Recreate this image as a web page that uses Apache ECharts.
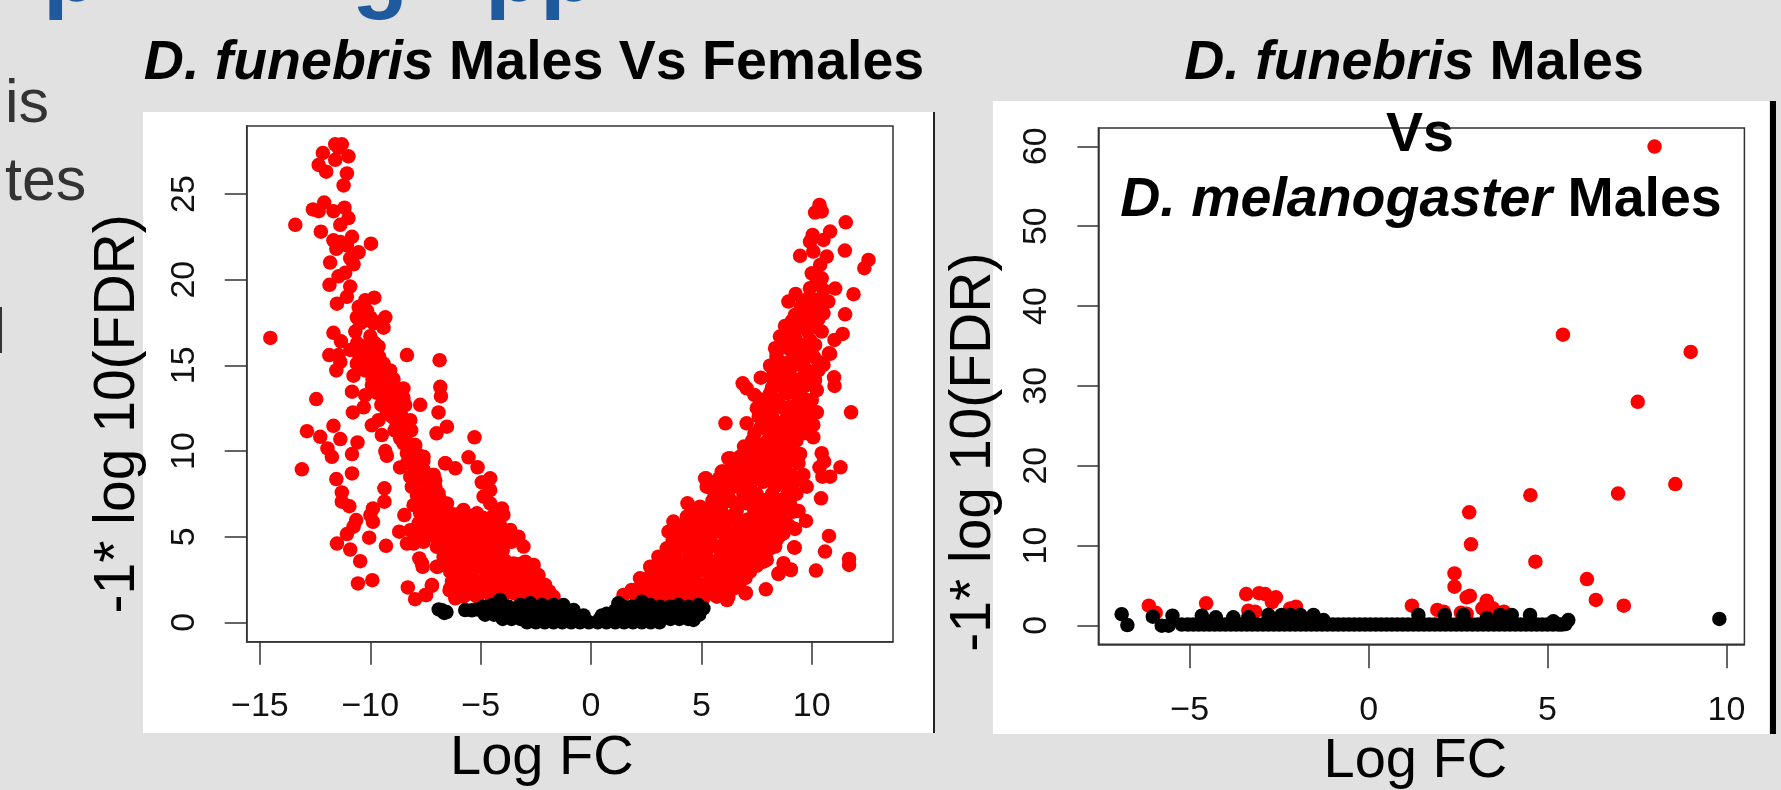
<!DOCTYPE html>
<html><head><meta charset="utf-8"><style>html,body{margin:0;padding:0;background:#e1e1e1}#c{width:1781px;height:790px}</style>
<script src="https://cdn.jsdelivr.net/npm/echarts@6/dist/echarts.min.js"></script></head>
<body><div id="c"></div>
<script>
const leftXTicks=[-15,-10,-5,0,5,10];
const leftYTicks=[0,5,10,15,20,25];
const rightXTicks=[-5,0,5,10];
const rightYTicks=[0,10,20,30,40,50,60];
const xTitle='Log FC';
const yTitle='-1* log 10(FDR)';

const leftRedNeg=[[-11.59,27.9],[-11.29,27.9],[-11.44,27.7],[-12.15,27.4],[-10.99,27.2],[-11.59,27.0],[-12.34,26.7],[-12.0,26.3],[-11.06,26.2],[-11.21,25.5],[-12.6,24.1],[-12.34,24.0],[-12.09,24.5],[-11.67,24.0],[-11.17,24.2],[-10.99,23.6],[-11.36,23.2],[-13.4,23.2],[-12.24,22.8],[-11.67,22.3],[-11.36,22.2],[-10.83,22.5],[-11.54,21.8],[-11.06,22.0],[-9.97,22.1],[-10.53,21.6],[-11.82,21.0],[-10.91,21.25],[-10.76,20.9],[-11.14,20.4],[-11.44,20.2],[-11.85,19.7],[-10.91,19.6],[-11.06,19.0],[-11.51,18.6],[-10.23,18.8],[-9.82,18.95],[-10.53,18.4],[-10.15,18.2],[-9.32,17.8],[-10.61,17.8],[-10.46,17.45],[-10.68,16.97],[-9.4,17.2],[-9.85,17.45],[-11.67,16.9],[-11.33,16.4],[-10.91,15.9],[-10.0,16.7],[-9.63,16.1],[-10.3,16.1],[-11.86,15.6],[-11.44,15.6],[-11.36,15.2],[-11.54,14.7],[-10.61,15.1],[-10.15,15.3],[-9.85,15.7],[-9.4,15.1],[-9.1,14.7],[-14.53,16.6],[-8.34,15.6],[-6.86,15.3],[-10.76,14.4],[-10.23,14.7],[-9.7,14.7],[-9.4,14.3],[-8.95,14.2],
[-12.45,13.03],[-10.83,13.46],[-10.23,13.26],[-10.3,12.55],[-10.79,12.25],[-9.43,12.9],[-9.93,13.85],[-9.4,13.95],[-8.95,13.75],[-8.5,13.65],[-6.83,13.75],[-6.8,13.2],[-7.74,12.7],[-6.91,12.25],[-8.95,12.97],[-8.42,12.68],[-8.8,12.4],[-9.02,12.0],[-9.63,11.8],[-11.67,11.47],[-12.87,11.16],[-12.27,10.83],[-11.36,10.7],[-9.93,11.5],[-9.48,10.93],[-8.19,11.8],[-8.15,11.2],[-8.8,11.5],[-8.65,10.74],[-7.0,11.03],[-6.53,11.42],[-10.58,10.5],[-11.94,10.15],[-11.74,9.66],[-10.83,9.82],[-9.32,10.0],[-9.25,9.72],[-13.1,8.93],[-10.83,8.69],[-11.54,8.36],[-7.96,10.35],[-7.81,9.76],[-8.34,9.86],[-6.6,9.28],[-8.65,9.04],[-7.89,9.0],[-7.13,8.6],[-7.59,8.89],[-8.12,7.91],[-7.74,8.3],[-7.44,7.91],[-7.06,7.82],[-7.89,7.43],[-7.29,7.33],[-6.83,7.13],[-9.36,7.82],[-11.29,7.58],[-9.36,7.04],[-11.29,7.04],[-10.95,6.78],[-9.88,6.65],[-10.0,6.26],[-9.88,5.87],[-10.64,5.97],[-10.76,5.58],[-11.06,5.15],[-8.46,6.26],[-8.04,6.84],[-7.59,6.65],[-7.21,6.45],[-6.76,6.36],[-7.59,5.97],[-7.06,5.77],[-6.53,5.77],[-8.69,5.29],[-8.19,5.38],[-7.81,5.77],[-10.05,4.94],[-11.51,4.6],[-9.29,4.47],[-10.91,4.25],[-10.46,3.57],[-8.34,4.6],[-7.59,4.7],[-7.06,5.0],[-6.6,4.41],[-7.78,3.73],[-7.63,3.24],[-6.95,3.24],[-6.38,3.15],[-10.56,2.27],[-9.91,2.46],[-8.3,2.04],[-7.21,2.13],[-7.47,1.59],[-7.97,1.35],[-6.41,1.88],
[-7.59,9.67],[-7.59,8.89],[-7.14,8.6],[-7.51,8.12],[-7.06,7.92],[-7.44,7.34],[-6.91,7.34],[-7.29,6.75],[-6.83,6.75],[-7.59,6.17],[-7.14,6.17],[-6.38,6.36],[-5.78,6.56],[-5.17,6.36],[-6.61,5.78],[-6.08,5.88],[-5.55,5.78],[-4.95,5.88],[-7.59,4.81],[-7.06,5.2],[-6.53,5.0],[-5.93,5.49],[-5.32,5.1],[-4.64,5.29],[-4.04,6.65],[-3.97,6.27],[-4.12,5.68],[-3.66,5.39],[-3.29,5.0],[-3.06,4.42],[-3.97,4.61],[-4.57,4.61],[-5.17,4.42],[-5.85,4.42],[-6.46,4.22],[-7.66,3.44],[-6.99,3.25],[-6.23,3.44],[-5.55,3.54],[-4.87,3.74],[-4.19,3.64],[-3.51,3.44],[-2.98,3.54],[-2.6,3.35],[-2.38,2.76],[-2.91,2.76],[-3.51,2.76],[-4.12,2.76],[-4.72,2.76],[-5.4,2.66],[-6.08,2.76],[-6.38,2.96],[-7.21,2.18],[-7.51,1.6],[-6.38,1.98],[-5.78,2.08],[-5.17,1.98],[-4.49,2.08],[-3.81,2.08],[-3.21,2.08],[-2.6,2.08],[-2.08,2.18],[-1.7,1.5],[-2.08,1.3],[-2.6,1.6],[-3.21,1.5],[-3.89,1.69],[-4.49,1.4],[-5.17,1.5],[-5.78,1.5],[-6.15,1.4],[-6.61,9.28],[-6.15,8.99],[-5.55,9.63],[-5.14,9.05],[-4.57,8.41],[-4.95,8.17],[-4.57,7.72],[-4.87,7.34],[-4.57,6.95],[-5.28,10.8]];

const leftRedNegDense=[[-10.3,17.6],[-10.0,17.8],[-9.6,17.5],[-9.8,16.3],[-9.9,15.5],[-9.6,15.5],[-9.8,15.0],[-9.55,14.5],[-9.2,14.5],[-9.6,13.5],[-9.2,13.4],[-8.8,13.3],[-9.2,12.8],[-8.7,12.7],[-9.1,12.4],[-8.6,12.1],[-8.9,11.9],[-8.5,11.5],[-8.65,11.2],[-8.5,10.44],[-8.34,9.28],[-8.04,9.47],[-8.19,8.5],[-7.74,9.28],[-7.51,8.3],[-7.06,8.3],[-7.66,7.33],[-6.91,7.52],[-7.13,6.75],[-6.53,6.94],[-7.74,6.36],[-7.44,5.38],[-6.83,5.58],[-6.38,5.0],[-6.98,4.41],[-6.68,3.83],[-6.38,4.22],[-7.89,5.0],[-8.04,4.6],
[-6.1,6.3],[-5.5,6.2],[-4.9,6.1],[-4.45,6.2],[-6.2,5.3],[-5.65,5.2],[-5,5.1],[-4.4,5.0],[-3.85,5.0],[-6.2,4.7],[-5.55,4.7],[-4.85,4.6],[-4.3,4.4],[-5.5,4.0],[-6.2,3.9],[-4.9,4.1],[-4.3,4.1],[-5.8,3.1],[-5.2,3.2],[-4.5,3.2],[-3.8,3.2],[-3.2,3.1],[-6,2.4],[-5.4,2.1],[-5,2.4],[-4.4,2.4],[-3.8,2.5],[-3.2,2.5],[-2.6,2.7],[-5.5,1.7],[-4.8,1.8],[-4.2,1.6],[-3.5,1.7],[-2.9,1.8],[-2.3,1.7],[-1.9,1.8],
[-10.6,16.3],[-10.5,15.6],[-10.1,14.9],[-9.9,14.2],[-9.7,13.4],[-9.5,12.7],[-9.25,12.2],[-8.9,11.2],[-8.9,13.3],[-8.5,13.1],[-8.4,11.1],[-8.2,10.4],[-8.0,9.9],[-7.6,9.4],[-7.9,8.6],[-7.4,8.5],[-7.5,7.7],[-7.1,7.6],[-7.4,7.0],[-7,7.1],[-6.6,6.6],[-7.4,6.4],[-7,6.4],[-7.4,5.7],[-7.2,5.2],[-6.8,5.1],[-6.7,4.8],
[-5.8,6.1],[-5.2,6],[-4.7,6],[-4.3,5.7],[-6.4,5.4],[-5.8,5.5],[-5.2,5.6],[-4.6,5.6],[-6,4.9],[-5.4,4.9],[-4.7,4.9],[-4.1,4.9],[-3.6,4.7],[-5.9,4],[-5.2,4.1],[-4.6,4.2],[-4,4.2],[-6.5,3.6],[-5.9,3.5],[-5.2,3.6],[-4.5,3.6],[-3.9,3.6],[-3.2,3.4],[-6,3],[-5.5,3],[-4.8,3.1],[-4.2,3.2],[-3.5,3.1],[-2.8,3.1],[-6.3,2.4],[-5.6,2.4],[-4.7,2.3],[-4.1,2.3],[-3.5,2.3],[-2.9,2.3],[-2.4,2.2],[-6,1.8],[-5.2,1.8],[-4.5,1.8],[-3.9,1.9],[-3.2,1.8],[-2.6,1.8],[-2.1,1.7]];

const leftRedPos=[[5.17,8.4],[5.32,7.92],[6.22,9.57],[6.0,8.8],[6.75,9.67],[5.7,7.92],[6.75,8.89],[7.51,9.28],[8.26,9.67],[8.87,9.28],[9.39,9.67],[6.45,7.92],[7.2,8.11],[8.11,8.31],[8.87,8.11],[4.37,6.95],[4.94,6.75],[5.54,7.14],[6.3,7.14],[7.05,6.95],[7.81,7.14],[8.56,6.95],[9.09,6.65],[3.73,5.88],[4.34,6.17],[5.09,5.97],[5.85,6.17],[6.6,5.88],[7.43,6.07],[8.19,6.07],[8.87,5.78],[3.51,5.29],[4.19,5.2],[4.94,5.2],[5.7,5.29],[6.45,5.2],[7.2,5.29],[7.96,5.2],[8.64,5.2],[3.43,4.32],[4.19,4.42],[4.94,4.42],[5.7,4.42],[6.45,4.42],[7.2,4.42],[7.96,4.22],[8.26,4.6],[9.2,4.38],[3.05,3.83],[3.81,3.74],[4.56,3.64],[5.32,3.64],[6.07,3.64],[6.9,3.64],[7.81,3.54],[2.68,3.25],[3.43,3.05],[4.19,2.96],[4.94,3.05],[5.7,2.96],[6.45,2.96],[7.2,2.96],[8.49,2.82],[9.05,3.09],[2.22,2.57],[2.98,2.37],[3.73,2.28],[4.49,2.28],[5.24,2.28],[6.0,2.28],[6.75,2.37],[1.84,1.89],[2.52,1.89],[3.28,1.7],[4.03,1.79],[4.79,1.7],[5.54,1.79],[6.22,1.5],[7.01,1.73],[7.92,1.93],[1.47,1.6],[2.07,1.4],[2.83,1.4],[3.58,1.4],[4.34,1.4],[5.09,1.4],[5.7,1.5],
[10.35,24.36],[10.15,23.92],[10.45,23.98],[11.54,23.35],[10.83,22.81],[10.04,22.61],[9.92,22.22],[10.53,22.32],[9.47,21.39],[10.07,21.64],[10.68,21.35],[11.5,21.7],[12.57,21.15],[12.38,20.67],[10.0,20.37],[10.38,20.86],[10.45,20.08],[11.06,19.48],[9.92,19.5],[10.53,19.4],[9.27,19.17],[8.94,18.72],[9.62,18.72],[10.23,18.82],[10.75,18.72],[11.89,19.15],[11.51,17.98],[10.53,18.04],[9.92,17.94],[9.24,17.94],[8.79,17.3],[9.47,17.26],[10.15,17.26],[10.45,16.97],[11.4,16.83],[11.03,16.48],[8.56,16.68],[9.24,16.58],[9.92,16.48],[10.15,16.19],[8.34,16.0],[9.02,15.9],[9.7,15.7],[10.78,15.7],[10.3,15.2],[8.11,14.98],[8.72,15.12],[9.47,15.03],[10.53,15.03],
[8.41,15.7],[9.24,15.7],[10.83,15.67],[8.16,14.97],[8.87,15.12],[9.62,15.02],[7.69,14.28],[8.49,14.15],[9.24,14.15],[10.15,14.15],[11.01,14.3],[11.03,13.8],[6.87,13.95],[7.05,13.66],[7.4,13.27],[8.11,13.37],[8.87,13.37],[10.23,13.56],[10.0,12.98],[7.51,12.5],[8.26,12.59],[9.02,12.59],[9.77,12.5],[10.23,12.26],[11.78,12.26],[6.09,11.62],[7.05,11.62],[7.66,11.33],[8.41,11.62],[9.17,11.72],[10.07,11.52],[8.11,11.03],[8.87,11.03],[9.62,11.03],[10.07,10.8],[6.93,10.26],[7.73,10.35],[8.19,10.26],[9.02,10.26],[9.47,9.83],[6.3,9.58],[6.9,9.48],[7.58,9.58],[8.19,9.48],[8.79,9.48],[10.45,9.87],[10.56,9.38],[10.35,9.05],[11.3,9.05],[10.48,8.5],[10.83,8.5],[5.92,8.8],[6.53,8.7],[7.2,8.7],[7.81,8.8],[8.49,8.7],[9.09,8.6],[9.62,8.6],[9.77,7.92],[5.21,8.41],[5.24,7.92],[5.85,7.92],[6.53,8.02],[7.2,7.92],[8.34,7.92],[9.02,7.92],[10.42,7.24],[5.54,7.14],[6.37,7.05],[7.05,7.05],[7.96,7.14],[8.64,7.14],[8.94,6.95],[9.17,6.46],[5.09,6.36],[5.7,6.36],[6.45,6.27],[7.51,6.36],[8.26,6.36],[9.74,5.92],[9.24,5.45],[8.72,5.2],[7.96,5.59],[6.75,5.59],[5.85,5.59],[5.17,5.39],[10.78,5.04],[10.6,4.13],[9.23,4.36],[8.34,4.42],[7.51,4.42],[6.75,4.61],[5.85,4.42],[5.09,4.42],[11.69,3.7],[11.69,3.35],[10.19,3.02],[8.72,3.45],[7.96,3.64],[7.2,3.45],[9.05,3.05],[8.5,2.86],[7.0,1.69],[6.16,1.3]];

const leftRedPosDense=[[6.4,9.2],[7.1,9.2],[7.8,9.2],[8.4,9.1],[5.8,8.4],[6.1,8.4],[6.9,8.4],[7.6,8.4],[8.3,8.4],[9,8.4],[5.6,7.5],[6.2,7.5],[6.9,7.5],[7.5,7.5],[8.2,7.5],[8.9,7.5],[9.3,7.5],[4.6,6.5],[5.3,6.5],[5.9,6.5],[6.6,6.5],[7.4,6.5],[8,6.5],[8.7,6.5],[9.4,6.5],[3.9,5.6],[4.6,5.6],[5.3,5.6],[6,5.6],[6.9,5.6],[7.6,5.6],[8.3,5.6],[9,5.6],[3.7,4.8],[4.5,4.8],[5.3,4.8],[6.1,4.8],[6.9,4.8],[7.6,4.8],[8.4,4.8],[3.8,4],[4.5,4],[5.1,4],[5.9,4],[6.5,4],[7.3,4],[7.9,4],[3.1,3.3],[3.8,3.3],[4.6,3.3],[5.3,3.3],[6,3.3],[6.8,3.3],[7.5,3.3],[2.6,2.6],[3.3,2.6],[4,2.6],[4.7,2.6],[5.5,2.6],[6.3,2.6],[7,2.6],[2.2,2],[2.9,2],[3.6,2],[4.4,2],[5.1,2],[5.9,2],[6.5,2],
[8.4,14.7],[9,14.7],[9.8,14.7],[10.3,14.7],[8.6,13.8],[9,13.8],[9.7,13.8],[7.7,13],[8.5,13],[9.4,13],[7.6,12],[8.2,12],[8.9,12],[9.4,12],[9.9,12],[8.5,11.3],[9.3,11.3],[9.8,11.3],[7.3,10.6],[8,10.6],[8.6,10.6],[9.3,10.6],[7.3,9.9],[8,9.9],[8.6,9.9],[9.1,9.9],[9.5,18.4],[10.2,18.4],[9.5,17.7],[10.3,17.7],[8.9,17],[9.8,17],[8.8,16.2],[9.4,16.2],[8.4,15.5],[9.4,15.5],[10.1,15.5],[10.2,19.8],[9.9,19],
[7.4,11],[7.9,11.7],[8.7,11.7],[9.5,11.7],[9.9,11],[8.3,10.9],[9,10.8],[7.7,10],[8.3,9.7],[8.9,9.9],[9.4,9.3],[6.7,9.1],[7.4,9],[8,9],[8.7,9],[6.3,8.2],[7,8.2],[7.8,8.2],[8.5,8.2],[9.2,8.2],[5.5,7.1],[6,7],[6.8,7],[7.6,7],[8.3,7],[9,7],[4.9,6],[5.6,6],[6.3,6],[7.1,6],[7.8,6],[8.5,6],[4.3,5.5],[5,5.5],
[3.9,5],[4.7,5],[5.4,5],[6.2,5],[7,5],[7.8,5],[8.5,5],[3.7,4.3],[4.6,4.3],[5.3,4.3],[6.1,4.3],[6.8,4.3],[7.6,4.3],[8.1,4.3],[3.3,3.6],[4.2,3.6],[4.9,3.6],[5.7,3.6],[6.5,3.6],[7.2,3.6],[2.9,2.9],[3.7,2.9],[4.5,2.9],[5.3,2.9],[6.1,2.9],[6.9,2.9],[2.6,2.2],[3.3,2.2],[4.1,2.2],[4.8,2.2],[5.6,2.2],[6.3,2.2],[2.2,1.7],[3,1.7],[3.8,1.7],[4.6,1.7],[5.4,1.7],[6,1.7],
[8.2,14.3],[8.8,14.4],[9.6,14.3],[8.2,13.7],[9.3,13.5],[9.7,13],[8.1,12.7],[8.7,12.5],[9.4,12.5],[7.9,12.3],[9,16.5],[9.6,16.2],[9.1,17.6],[9.8,17.6],[9.7,18.3]];

const leftBlack=[[-6.9,.75],[-6.75,.7],[-6.65,.55],[-6.55,.6],[-5.7,.72],[-5.4,.7],[-5.15,.75],[-4.72,.52],[-4.12,1.3],[-4.49,1.01],[-4.87,.91],[-3.74,.91],[-3.21,1.01],[-2.76,1.11],[-2.23,1.01],[-1.7,1.01],[-1.25,1.01],[-.79,.72],[-.34,.4],
[-4.9,.7],[-4.5,.7],[-4.1,.7],[-3.7,.7],[-3.3,.7],[-2.9,.7],[-2.5,.7],[-2.1,.7],[-1.7,.7],[-1.3,.7],
[-4.8,.45],[-4.4,.45],[-4,.45],[-3.6,.45],[-3.2,.45],[-2.8,.45],[-2.4,.45],[-2,.45],[-1.6,.45],[-1.2,.45],[-.8,.4],
[-4,.2],[-3.6,.2],[-3.2,.2],[-2.8,.2],[-2.4,.2],[-2,.2],[-1.6,.2],[-1.2,.2],[-.8,.2],[-.4,.2],
[-2.9,0],[-2.5,0],[-2.1,0],[-1.7,0],[-1.3,0],[-.9,0],[-.5,0],[-.1,0],[.3,0],[.7,0],[1.1,0],[1.5,0],[1.9,0],[2.3,0],[2.7,0],[3.1,0],
[.4,.2],[.8,.2],[1.2,.2],[1.6,.2],[2,.2],[2.4,.2],[2.8,.2],[3.2,.2],[3.6,.2],[4,.2],[4.4,.2],[4.64,.14],
[.5,.4],[.9,.45],[1.3,.45],[1.7,.45],[2.1,.45],[2.5,.45],[2.9,.45],[3.3,.45],[3.7,.45],[4.1,.45],[4.5,.45],[4.9,.45],
[1.1,.7],[1.5,.7],[1.9,.7],[2.3,.7],[2.7,.7],[3.1,.7],[3.5,.7],[3.9,.7],[4.3,.7],[4.7,.7],[5.09,.82],
[.71,.5],[1.24,1.11],[1.47,.91],[1.84,.91],[2.3,1.2],[2.68,1.01],[3.13,.91],[3.58,.91],[3.96,1.01],[4.41,.91],[4.86,1.01]];

const rightRed=[[7.99,59.97],[5.43,36.4],[9.0,34.25],[7.52,28.0],[4.52,16.3],[6.97,16.5],[8.57,17.7],[2.81,14.15],[2.86,10.15],[4.66,7.97],[2.4,6.5],[2.4,4.84],[6.1,5.8],[6.35,3.17],[7.13,2.46],[2.74,3.5],[2.83,3.7],[3.3,3.09],[3.18,2.13],[3.47,2.13],[3.78,1.7],[1.21,2.46],[1.92,1.92],[2.1,1.7],[2.58,1.58],[2.74,1.45],[-6.14,2.46],[-5.95,1.58],[-4.54,2.75],[-3.42,3.92],[-3.06,4.02],[-2.89,3.92],[-2.59,3.5],[-2.7,2.9],[-3.36,1.83],[-3.17,1.7],[-2.19,2.12],[-2.03,2.33]];

const rightBlack=[[-6.9,1.4],[-6.74,.03],[-6.03,1.08],[-5.78,-.05],[-5.59,-.05],[-5.48,1.2],[9.8,.79],[-4.66,1.2],[-4.27,1],[-3.78,1],[-3.36,1],[-2.8,1.3],[-2.43,1.3],[-2.19,1.3],[-1.91,1.3],[-1.54,1.3],[-1.26,.66],[1.39,1.3],[2.13,1.3],[2.65,1.3],[3.3,.87],[3.67,1.3],[4,1.3],[4.51,1.3],[5.58,.66],[5.16,.5],
[-5.22,.1],[-4.9,.1],[-4.6,.1],[-4.3,.1],[-4,.1],[-3.7,.1],[-3.4,.1],[-3.1,.1],[-2.8,.1],[-2.5,.1],[-2.2,.1],[-1.9,.1],[-1.6,.1],[-1.3,.1],[-1,.1],[-.7,.1],[-.4,.1],[-.1,.1],[.2,.1],[.5,.1],[.8,.1],[1.1,.1],[1.4,.1],[1.7,.1],[2,.1],[2.3,.1],[2.6,.1],[2.9,.1],[3.2,.1],[3.5,.1],[3.8,.1],[4.1,.1],[4.4,.1],[4.7,.1],[5,.1],[5.3,.1],[5.5,.15],
[-5.05,.1],[-4.75,.1],[-4.45,.1],[-4.15,.1],[-3.85,.1],[-3.55,.1],[-3.25,.1],[-2.95,.1],[-2.65,.1],[-2.35,.1],[-2.05,.1],[-1.75,.1],[-1.45,.1],[-1.15,.1],[-.85,.1],[-.55,.1],[-.25,.1],[.05,.1],[.35,.1],[.65,.1],[.95,.1],[1.25,.1],[1.55,.1],[1.85,.1],[2.15,.1],[2.45,.1],[2.75,.1],[3.05,.1],[3.35,.1],[3.65,.1],[3.95,.1],[4.25,.1],[4.55,.1],[4.85,.1],[5.15,.1],[5.4,.1]];

const FONT='"Liberation Sans",Arial,sans-serif';
const fmt=v=>String(v).replace('-','\u2212');
function xAxis(grid,min,max,ticks,pad,gap,tickLen,margin){return {type:'value',gridIndex:grid,min,max,splitLine:{show:false},
  axisLine:{show:true,onZero:false,lineStyle:{color:'#333',width:1.5}},
  axisTick:{show:true,length:tickLen,lineStyle:{color:'#333',width:1.5},customValues:ticks},
  axisLabel:{show:true,margin,color:'#111',fontSize:34,fontFamily:FONT,formatter:fmt,customValues:ticks,hideOverlap:false,showMinLabel:true,showMaxLabel:true},
  name:xTitle,nameLocation:'middle',nameGap:gap,nameTextStyle:{color:'#000',fontSize:56,fontFamily:FONT,padding:[0,pad,0,0]}};}
function yAxis(grid,min,max,ticks,pad,gap,tickLen,margin){return {type:'value',gridIndex:grid,min,max,splitLine:{show:false},
  axisLine:{show:true,onZero:false,lineStyle:{color:'#333',width:1.5}},
  axisTick:{show:true,length:tickLen,lineStyle:{color:'#333',width:1.5},customValues:ticks},
  axisLabel:{show:true,rotate:90,margin,color:'#111',fontSize:34,fontFamily:FONT,formatter:fmt,customValues:ticks,hideOverlap:false},
  name:yTitle,nameLocation:'middle',nameRotate:90,nameGap:gap,nameTextStyle:{color:'#000',fontSize:57,fontFamily:FONT,padding:[0,pad,0,0]}};}
function dots(name,x,data,color){return {name,type:'scatter',xAxisIndex:x,yAxisIndex:x,data,symbol:'circle',symbolSize:14.5,itemStyle:{color,opacity:1},animation:false,silent:true,clip:false};}
const rich={i:{fontStyle:'italic',fontWeight:'bold',fontSize:55.5,fontFamily:FONT,color:'#000'},b:{fontWeight:'bold',fontSize:55.5,fontFamily:FONT,color:'#000'}};
function ttl(text,cx,top){return {text,left:cx,top,textAlign:'center',padding:0,z:50,textStyle:{rich,fontWeight:'bold',fontSize:55.5,fontFamily:FONT,color:'#000'}};}
function side(text,x,y,color,size,w){return {type:'text',x,y,z:-1,style:{text,fill:color,fontSize:size,fontFamily:FONT,fontWeight:w||'normal'}};}

const chart=echarts.init(document.getElementById('c'),null,{renderer:'canvas'});
chart.setOption({
  animation:false,backgroundColor:'#e1e1e1',
  title:[ttl('{i|D. funebris} {b|Males Vs Females}',534,36),ttl('{i|D. funebris} {b|Males}',1414,36),ttl('{b|Vs}',1420,108),ttl('{i|D. melanogaster} {b|Males}',1421,173)],
  grid:[{left:246.7,top:126,width:646.3,height:515.7,show:true,borderColor:'#333',borderWidth:1.5,backgroundColor:'#fff',outerBoundsMode:'none'},
        {left:1098.4,top:128,width:646,height:516.3,show:true,borderColor:'#333',borderWidth:1.5,backgroundColor:'#fff',outerBoundsMode:'none'}],
  xAxis:[xAxis(0,-15.6,13.68,leftXTicks,56,89,23,48),xAxis(1,-7.55,10.5,rightXTicks,12,89,24,49)],
  yAxis:[yAxis(0,-1.13,28.97,leftYTicks,60,100,22,45),yAxis(1,-2.38,62.3,rightYTicks,132,96,21,45)],
  series:[dots('leftDown',0,leftRedNeg.concat(leftRedNegDense),'#ff0000'),dots('leftUp',0,leftRedPos.concat(leftRedPosDense),'#ff0000'),dots('leftNS',0,leftBlack,'#000'),
          dots('rightSig',1,rightRed,'#ff0000'),dots('rightNS',1,rightBlack,'#000')],
  graphic:{elements:[
    {type:'rect',z:-5,shape:{x:143,y:112,width:790,height:621},style:{fill:'#fff'}},
    {type:'rect',z:-5,shape:{x:993,y:101,width:776,height:633},style:{fill:'#fff'}},
    {type:'rect',z:-4,shape:{x:933,y:112,width:2,height:621},style:{fill:'#222'}},
    {type:'rect',z:-4,shape:{x:1770,y:101,width:6,height:633},style:{fill:'#000'}},
    {type:'rect',z:-4,shape:{x:0,y:307,width:2,height:46},style:{fill:'#333'}},
    side('is',5,75,'#333',61),side('tes',5,153,'#333',61),
    side('p',43,-70,'#1f5a9e',92,'bold'),side('g',352,-70,'#1f5a9e',92,'bold'),side('p',485,-70,'#1f5a9e',92,'bold'),side('p',540,-70,'#1f5a9e',92,'bold')
  ]}
});
</script></body></html>
